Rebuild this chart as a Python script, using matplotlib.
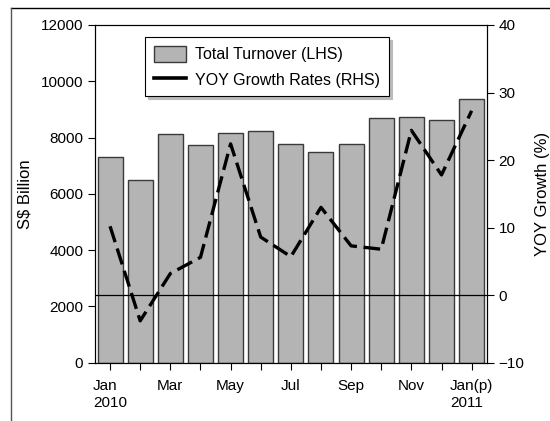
import matplotlib.pyplot as plt
from matplotlib.lines import Line2D
from matplotlib.patches import Patch

plt.rcParams['font.family'] = ['Liberation Sans', 'DejaVu Sans']

months = ["Jan\n2010", "Feb", "Mar", "Apr", "May", "Jun", "Jul", "Aug", "Sep",
          "Oct", "Nov", "Dec", "Jan(p)\n2011"]
turnover = [7300, 6490, 8110, 7720, 8160, 8230, 7770, 7500, 7760, 8680, 8720, 8630, 9380]
yoy_growth = [10.2, -3.8, 3.2, 5.6, 22.4, 8.6, 5.7, 13.0, 7.3, 6.8, 24.4, 17.8, 27.3]

fig = plt.figure(figsize=(5.5, 4.21), dpi=100)
ax = fig.add_axes([95 / 550, 1 - 362.7 / 421, (486.7 - 95) / 550, (362.7 - 25) / 421])

x = list(range(len(months)))
ax.bar(x, turnover, width=0.83, color="#b4b4b4", edgecolor="#3a3a3a", linewidth=1)
ax.set_xlim(-0.5, 12.5)
ax.set_ylim(0, 12000)
ax.set_yticks(range(0, 12001, 2000))
ax.set_xticks(x)
ax.set_xticklabels([m if i % 2 == 0 else "" for i, m in enumerate(months)],
                   multialignment="left")
ax.set_ylabel("S$ Billion", fontsize=12, labelpad=6)
ax.tick_params(labelsize=11, length=5, color="black")
ax.tick_params(axis="x", pad=7)

ax2 = ax.twinx()
ax2.set_ylim(-10, 40)
ax2.set_yticks(range(-10, 41, 10))
ax2.axhline(0, color="black", linewidth=0.9)
ax2.plot(x, yoy_growth, color="black", linewidth=2.4, linestyle=(0, (5.0, 2.0)),
         dash_capstyle="butt")
ax2.set_ylabel("YOY Growth (%)", fontsize=12, labelpad=8)
ax2.tick_params(labelsize=11, length=5)

handles = [Patch(facecolor="#b4b4b4", edgecolor="#3a3a3a"),
           Line2D([0], [0], color="black", linewidth=2.6)]
leg = ax.legend(handles, ["Total Turnover (LHS)", "YOY Growth Rates (RHS)"],
                loc="upper left", bbox_to_anchor=(0.128, 0.965), borderaxespad=0,
                fontsize=11.5, fancybox=False, shadow={"color": "#bbbbbb", "alpha": 1},
                framealpha=1, edgecolor="black",
                handlelength=2.0, handleheight=1.2, borderpad=0.55,
                labelspacing=0.55, handletextpad=0.6)
leg.get_frame().set_linewidth(0.8)

fig.add_artist(Line2D([11 / 550, 1], [1 - 8 / 421, 1 - 8 / 421], color="black", linewidth=1))
fig.add_artist(Line2D([11 / 550, 11 / 550], [0, 1 - 8 / 421], color="#555555", linewidth=1))

fig.savefig("out.png", dpi=100)
